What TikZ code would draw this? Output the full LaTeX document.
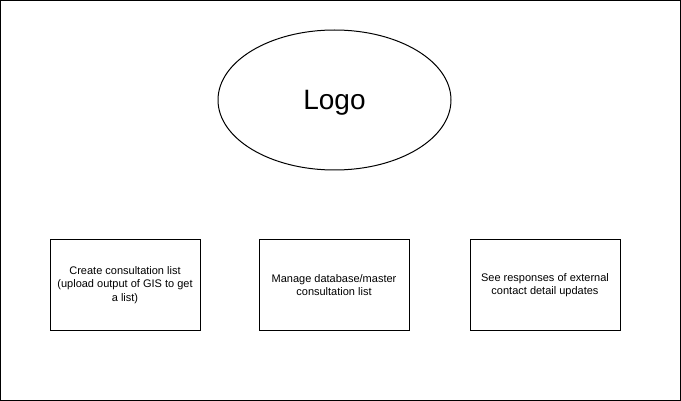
\documentclass[tikz,border=0pt]{standalone}
\usepackage{fontspec}
\setmainfont{Liberation Sans}
\usetikzlibrary{shapes.geometric}

\tikzset{
  pagebox/.style={draw,rectangle,line width=1pt,minimum width=150pt,minimum height=90pt,inner sep=0pt,align=center,font=\fontsize{11}{13.5}\selectfont}
}

\begin{document}
\begin{tikzpicture}[x=1pt,y=-1pt]
\useasboundingbox (0,0) rectangle (681,401);
\draw[line width=1pt] (0.5,0.5) rectangle (680,400);
\node[draw,ellipse,line width=1pt,minimum width=233pt,minimum height=140pt,inner sep=0pt,text depth=0pt] at (334.5,100) (logo) {\fontsize{28}{32}\selectfont Logo};
\node[pagebox] at (125,285) (a1) {Create consultation list\\(upload output of GIS to get\\a list)};
\node[pagebox] at (334,285) (a2) {Manage database/master\\consultation list};
\node[pagebox] at (545,285) (a3) {See responses of external\\contact detail updates};
\end{tikzpicture}
\end{document}
